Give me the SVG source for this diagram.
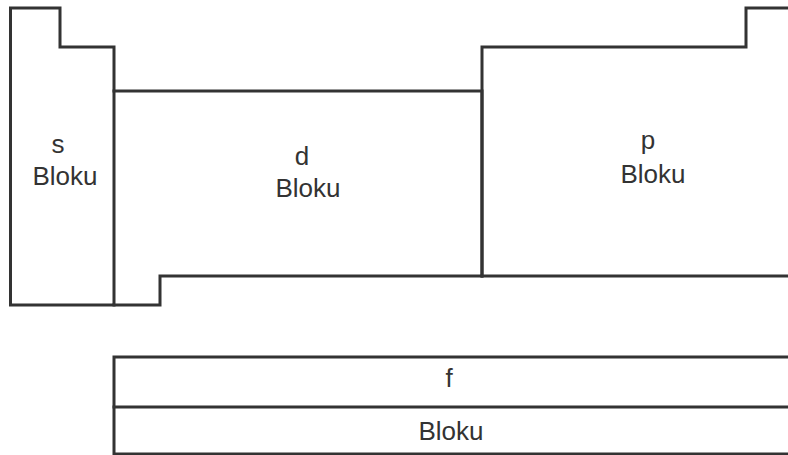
<svg xmlns="http://www.w3.org/2000/svg" width="788" height="455" viewBox="0 0 788 455">
<style>
.ln{fill:none;stroke:#333;stroke-width:3;stroke-linejoin:miter;stroke-linecap:square}
.t{font-family:"Liberation Sans",Arial,sans-serif;font-size:26px;fill:#333;text-anchor:middle}
</style>
<rect width="788" height="455" fill="#fff"/>
<g id="s-block">
<path class="ln" d="M10.5,8 H60 V47 H114 V305 H10.5 Z"/>
<text class="t" x="58" y="153">s</text>
<text class="t" x="65" y="185">Bloku</text>
</g>
<g id="d-block">
<path class="ln" d="M114,91 H482 V276 H160 V305 H114"/>
<text class="t" x="302" y="165">d</text>
<text class="t" x="308" y="197">Bloku</text>
</g>
<g id="p-block">
<path class="ln" d="M482,276 V47 H746 V8 H790"/>
<path class="ln" d="M482,276 H790"/>
<text class="t" x="648" y="149">p</text>
<text class="t" x="653" y="183">Bloku</text>
</g>
<g id="f-block">
<path class="ln" d="M790,357 H114 V454 H790"/>
<path class="ln" d="M114,407 H790"/>
<text class="t" x="449" y="387">f</text>
<text class="t" x="451" y="440">Bloku</text>
</g>
<g id="connectors"></g>
</svg>
